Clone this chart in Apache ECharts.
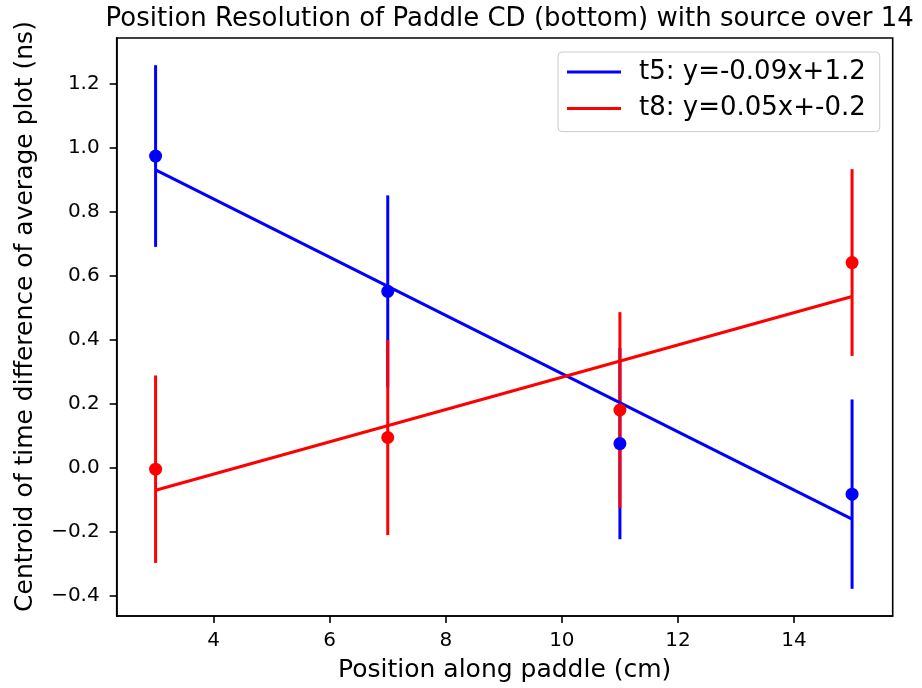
<!DOCTYPE html>
<html>
<head>
<meta charset="utf-8">
<script src="https://cdn.jsdelivr.net/npm/echarts@6/dist/echarts.min.js"></script>
<style>
  html, body { margin: 0; padding: 0; background: #fff; }
  #chart { width: 922px; height: 688px; }
</style>
</head>
<body>
<div id="chart"></div>
<script>
// positions along the paddle (cm)
const xs = [3, 7, 11, 15]

// t5 centroid and error
const t5Y = [0.974, 0.551, 0.075, -0.083]
const t5Err = [0.284, 0.300, 0.299, 0.296]

// t8 centroid and error
const t8Y = [-0.005, 0.094, 0.180, 0.641]
const t8Err = [0.293, 0.305, 0.306, 0.292]

// fit lines, read at the ends
const fitX = [3, 15]
const t5Fit = [0.931, -0.161]
const t8Fit = [-0.071, 0.535]

const xTicks = [4, 6, 8, 10, 12, 14]
const yTicks = [-0.4, -0.2, 0.0, 0.2, 0.4, 0.6, 0.8, 1.0, 1.2]

const t5Name = 't5: y=-0.09x+1.2'
const t8Name = 't8: y=0.05x+-0.2'

const BLUE = '#0000ff'
const RED = '#ff0000'
const FONT = 'DejaVu Sans'

const pairs = (a, b) => a.map((v, i) => [v, b[i]])

// error bars drawn as vertical lines via custom series
const errSeries = (ys, errs, color, z) => ({
  type: 'custom',
  z: z,
  silent: true,
  data: xs.map((x, i) => [x, ys[i], errs[i]]),
  renderItem: (params, api) => {
    const x = api.value(0)
    const y = api.value(1)
    const e = api.value(2)
    const p1 = api.coord([x, y - e])
    const p2 = api.coord([x, y + e])
    return {
      type: 'line',
      shape: { x1: p1[0], y1: p1[1], x2: p2[0], y2: p2[1] },
      style: { stroke: color, lineWidth: 3 }
    }
  }
})

const chart = echarts.init(document.getElementById('chart'))

const axisLine = { show: true, onZero: false, lineStyle: { color: '#000', width: 1.6 } }

const option = {
  animation: false,
  backgroundColor: '#fff',
  title: {
    text: 'Position Resolution of Paddle CD (bottom) with source over 14',
    left: 504.7,
    top: 1,
    textAlign: 'center',
    textStyle: { fontFamily: FONT, fontSize: 26, fontWeight: 'normal', color: '#000' }
  },
  legend: {
    orient: 'vertical',
    left: 558,
    top: 52,
    padding: [7, 14, 10, 9],
    itemGap: 10.6,
    itemWidth: 54,
    itemHeight: 3,
    backgroundColor: '#fff',
    borderColor: '#cccccc',
    borderWidth: 1,
    borderRadius: 4,
    textStyle: { fontFamily: FONT, fontSize: 26, color: '#000', padding: [0, 0, 0, 13], lineHeight: 26 },
    data: [
      { name: t5Name, icon: 'rect' },
      { name: t8Name, icon: 'rect' }
    ]
  },
  grid: {
    left: 116.7,
    right: 29.3,
    top: 38,
    bottom: 71,
    show: true,
    borderColor: '#000',
    borderWidth: 1.6,
    backgroundColor: 'transparent'
  },
  xAxis: {
    type: 'value',
    min: 2.33,
    max: 15.70,
    name: 'Position along paddle (cm)',
    nameLocation: 'middle',
    nameGap: 42,
    nameTextStyle: { fontFamily: FONT, fontSize: 25, color: '#000' },
    axisLine: axisLine,
    splitLine: { show: false },
    axisTick: { show: true, length: 7, customValues: xTicks, lineStyle: { color: '#000', width: 1.6 } },
    axisLabel: {
      fontFamily: FONT, fontSize: 20, color: '#000', margin: 15,
      customValues: xTicks,
      formatter: v => String(v)
    }
  },
  yAxis: {
    type: 'value',
    min: -0.464,
    max: 1.343,
    axisLine: axisLine,
    splitLine: { show: false },
    axisTick: { show: true, length: 7, customValues: yTicks, lineStyle: { color: '#000', width: 1.6 } },
    axisLabel: {
      fontFamily: FONT, fontSize: 20, color: '#000', margin: 17,
      customValues: yTicks,
      formatter: v => v.toFixed(1).replace('-', '\u2212')
    }
  },
  graphic: [
    {
      type: 'text',
      x: 25,
      y: 316.5,
      rotation: Math.PI / 2,
      style: {
        text: 'Centroid of time difference of average plot (ns)',
        fontFamily: FONT,
        fontSize: 25,
        fill: '#000',
        align: 'center',
        verticalAlign: 'middle'
      }
    }
  ],
  series: [
    errSeries(t5Y, t5Err, BLUE, 2),
    errSeries(t8Y, t8Err, RED, 3),
    {
      name: t5Name,
      type: 'line',
      z: 4,
      data: pairs(fitX, t5Fit),
      symbol: 'none',
      lineStyle: { color: BLUE, width: 3 },
      itemStyle: { color: BLUE }
    },
    {
      name: t8Name,
      type: 'line',
      z: 4,
      data: pairs(fitX, t8Fit),
      symbol: 'none',
      lineStyle: { color: RED, width: 3 },
      itemStyle: { color: RED }
    },
    {
      type: 'scatter',
      z: 5,
      symbolSize: 13,
      data: pairs(xs, t5Y),
      itemStyle: { color: BLUE, opacity: 1 }
    },
    {
      type: 'scatter',
      z: 6,
      symbolSize: 13,
      data: pairs(xs, t8Y),
      itemStyle: { color: RED, opacity: 1 }
    }
  ]
}

chart.setOption(option)
window.addEventListener('resize', () => chart.resize())
</script>
</body>
</html>
